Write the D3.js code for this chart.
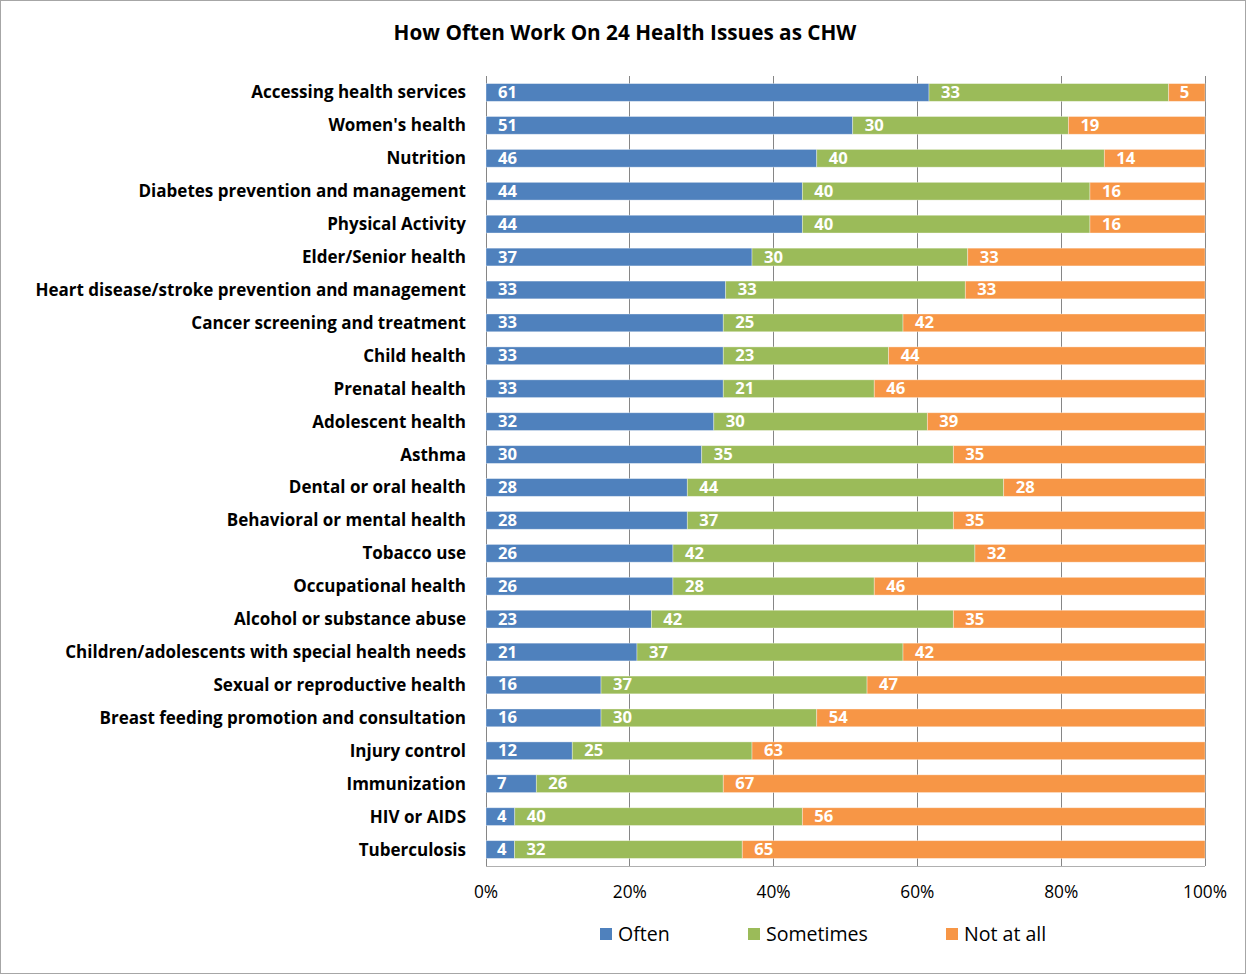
<!DOCTYPE html>
<html><head><meta charset="utf-8">
<script src="https://cdnjs.cloudflare.com/ajax/libs/d3/7.8.5/d3.min.js"></script>
<style>body{margin:0;background:#fff}svg{display:block}</style>
</head><body>
<svg id="c" width="1247" height="976"></svg>
<script>
const title = "How Often Work On 24 Health Issues as CHW";
const categories = ["Accessing health services","Women's health","Nutrition","Diabetes prevention and management","Physical Activity","Elder/Senior health","Heart disease/stroke prevention and management","Cancer screening and treatment","Child health","Prenatal health","Adolescent health","Asthma","Dental or oral health","Behavioral or mental health","Tobacco use","Occupational health","Alcohol or substance abuse","Children/adolescents with special health needs","Sexual or reproductive health","Breast feeding promotion and consultation","Injury control","Immunization","HIV or AIDS","Tuberculosis"];
const often =     [61,51,46,44,44,37,33,33,33,33,32,30,28,28,26,26,23,21,16,16,12,7,4,4];
const sometimes = [33,30,40,40,40,30,33,25,23,21,30,35,44,37,42,28,42,37,37,30,25,26,40,32];
const notAtAll =  [5,19,14,16,16,33,33,42,44,46,39,35,28,35,32,46,35,42,47,54,63,67,56,65];
const seriesNames = ["Often","Sometimes","Not at all"];
const seriesColors = ["#4F81BD","#9BBB59","#F79646"];
const tickValues = [0,0.2,0.4,0.6,0.8,1];

const svg = d3.select("#c");
const font = "'Open Sans', sans-serif";
const W=1247,H=976;
svg.append("rect").attr("x",0.5).attr("y",0.5).attr("width",W-2).attr("height",H-3)
  .attr("fill","#fff").attr("stroke","#a6a6a6");

// fit a font size so that a text reaches a target width
function fitSize(txt, weight, target){
  const t = svg.append("text").attr("font-family",font).attr("font-weight",weight).attr("font-size",100).text(txt);
  const w = t.node().getComputedTextLength(); t.remove();
  return 100*target/w;
}
const titleSize = fitSize(title,"bold",463);
const catSize = fitSize("Heart disease/stroke prevention and management","bold",431);
const tickSize = fitSize("100%","normal",44);
const legSize = fitSize("Sometimes","normal",102);
const valSize = fitSize("61","bold",19);

const m = {left:486,right:1205,top:76,bottom:866};
const x = d3.scaleLinear().domain([0,1]).range([m.left,m.right]);
const y = d3.scaleBand().domain(categories).range([m.top,m.bottom]).paddingInner(0.46).paddingOuter(0.23);

svg.append("text").attr("x",625).attr("y",40).attr("text-anchor","middle")
  .attr("font-family",font).attr("font-weight","bold").attr("font-size",titleSize).attr("fill","#000").text(title);

// gridlines
svg.append("g").selectAll("line").data(tickValues).join("line")
  .attr("x1",d=>x(d)).attr("x2",d=>x(d)).attr("y1",m.top).attr("y2",m.bottom)
  .attr("stroke","#868686").attr("stroke-width",1).attr("shape-rendering","crispEdges");
svg.append("line").attr("x1",m.left).attr("x2",m.right).attr("y1",m.bottom).attr("y2",m.bottom)
  .attr("stroke","#b0b0b0").attr("shape-rendering","crispEdges");

// stack
const rows = categories.map((c,i)=>({cat:c, vals:[often[i],sometimes[i],notAtAll[i]]}));
const segs = [];
rows.forEach(r=>{
  const tot = d3.sum(r.vals); let acc=0;
  r.vals.forEach((v,k)=>{ segs.push({cat:r.cat,k,v,x0:acc/tot,x1:(acc+v)/tot}); acc+=v; });
});
const g = svg.append("g");
g.selectAll("rect").data(segs).join("rect")
  .attr("x",d=>x(d.x0)).attr("width",d=>x(d.x1)-x(d.x0))
  .attr("y",d=>y(d.cat)).attr("height",y.bandwidth())
  .attr("fill",d=>seriesColors[d.k]).attr("stroke","#fff").attr("stroke-opacity",0.45).attr("stroke-width",0.8);
g.selectAll("text").data(segs).join("text")
  .attr("x",d=>x(d.x0)+ (d.v<10?11:12)).attr("y",d=>y(d.cat)+y.bandwidth()/2+5.5)
  .attr("font-family",font).attr("font-weight","bold").attr("font-size",valSize).attr("fill","#fff")
  .text(d=>d.v);

// category labels
svg.append("g").selectAll("text").data(categories).join("text")
  .attr("x",466).attr("y",d=>y(d)+y.bandwidth()/2+6).attr("text-anchor","end")
  .attr("font-family",font).attr("font-weight","bold").attr("font-size",catSize).attr("fill","#000").text(d=>d);

// x axis labels
svg.append("g").selectAll("text").data(tickValues).join("text")
  .attr("x",d=>x(d)).attr("y",898).attr("text-anchor","middle")
  .attr("font-family",font).attr("font-size",tickSize).attr("fill","#000").text(d=>d3.format(".0%")(d));

// legend
const lx = [600,748,946];
const lg = svg.append("g").selectAll("g").data(seriesNames).join("g")
  .attr("transform",(d,i)=>`translate(${lx[i]},934)`);
lg.append("rect").attr("x",0).attr("y",-6).attr("width",12).attr("height",12).attr("fill",(d,i)=>seriesColors[i]);
lg.append("text").attr("x",18).attr("y",7).attr("font-family",font).attr("font-size",legSize).attr("fill","#000").text(d=>d);
</script>
</body></html>
